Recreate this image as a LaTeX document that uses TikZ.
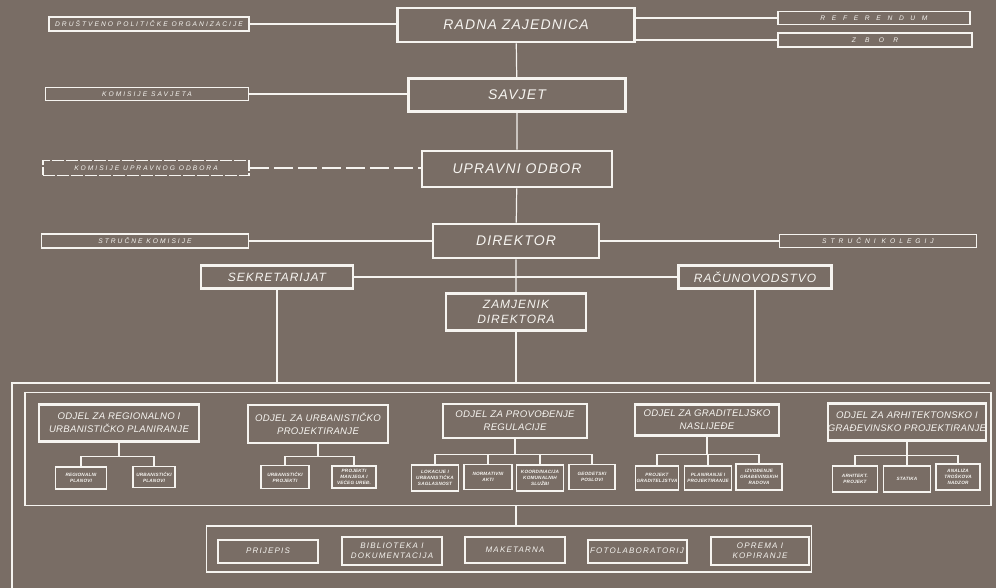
\documentclass[tikz,border=0pt]{standalone}
\usepackage{fontspec}
\setmainfont{Liberation Sans}
\usepackage{xcolor}
\definecolor{PlanBrown}{HTML}{796D65}
\definecolor{PlanChalk}{HTML}{F6F4F0}

\tikzset{
  sz/.style 2 args={minimum width=#1*0.75pt, minimum height=#2*0.75pt},
  box/.style={draw=PlanChalk, text=PlanChalk, inner sep=0pt, align=center},
  mainbox/.style={box, line width=2.1pt, font=\fontsize{10.5}{12}\selectfont\itshape\addfontfeature{LetterSpace=8}},
  sidebox/.style={box, line width=1.3pt, font=\fontsize{5}{6}\selectfont\itshape\addfontfeature{LetterSpace=#1}},
  sidebox/.default=30,
  staffbox/.style={box, line width=1.8pt, font=\fontsize{9}{11}\selectfont\itshape\addfontfeature{LetterSpace=8}},
  deptbox/.style={box, line width=2pt, font=\fontsize{7.2}{10}\selectfont\itshape\addfontfeature{LetterSpace=3}},
  subbox/.style={box, line width=1.4pt, font=\fontsize{3.5}{4.6}\selectfont\bfseries\itshape\addfontfeature{LetterSpace=4}},
  unitbox/.style={box, line width=1.5pt, font=\fontsize{6}{7.5}\selectfont\itshape\addfontfeature{LetterSpace=15}},
  framebox/.style={draw=PlanChalk, line width=1.1pt, inner sep=0pt},
  link/.style={draw=PlanChalk, line width=0.9pt},
}

\begin{document}
\begin{tikzpicture}[x=0.75pt, y=-0.75pt]
\fill[PlanBrown] (0,0) rectangle (996,588);
\useasboundingbox (0,0) rectangle (996,588);

\node[mainbox, sz={237}{34}] (radna) at (516,25) {RADNA ZAJEDNICA};
\node[sidebox, sz={200}{14}] (drustvo) at (149,24) {DRUŠTVENO POLITIČKE ORGANIZACIJE};
\node[sidebox=100, sz={192}{13}] (referendum) at (874,18) {REFERENDUM};
\node[sidebox=140, sz={194}{14}] (zbor) at (875,40) {ZBOR};

\node[mainbox, sz={217}{33}] (savjet) at (517,95) {SAVJET};
\node[sidebox, sz={203}{13}] (komsavjet) at (147,94) {KOMISIJE SAVJETA};

\node[mainbox, sz={190}{36}] (upravni) at (517,169) {UPRAVNI ODBOR};
\node[sidebox, sz={206}{15}, dash pattern=on 9pt off 1.5pt] (komupravni) at (146,168) {KOMISIJE UPRAVNOG ODBORA};

\node[mainbox, sz={166}{34}] (direktor) at (516,241) {DIREKTOR};
\node[sidebox, sz={207}{14}] (strucne) at (145,241) {STRUČNE KOMISIJE};
\node[sidebox=60, sz={197}{13}] (kolegij) at (878,241) {STRUČNI KOLEGIJ};

\node[staffbox, sz={152}{23}] (sekretarijat) at (277,277) {SEKRETARIJAT};
\node[staffbox, sz={153}{23}] (racunovodstvo) at (755,277) {RAČUNOVODSTVO};
\node[staffbox, sz={140}{37}] (zamjenik) at (516,312) {ZAMJENIK\\DIREKTORA};

\coordinate (frameleft) at (12,383);
\coordinate (frameright) at (990,383);
\node[framebox, sz={966}{113}] (odjeli) at (508,449) {};

\node[deptbox, sz={160}{37}] (d1) at (119,423) {ODJEL ZA REGIONALNO I\\URBANISTIČKO PLANIRANJE};
\node[deptbox, sz={140}{38}] (d2) at (318,424) {ODJEL ZA URBANISTIČKO\\PROJEKTIRANJE};
\node[deptbox, sz={144}{34}] (d3) at (515,421) {ODJEL ZA PROVOĐENJE\\REGULACIJE};
\node[deptbox, sz={144}{31}] (d4) at (707,420) {ODJEL ZA GRADITELJSKO\\NASLIJEĐE};
\node[deptbox, sz={150}{37}] (d5) at (907,422) {ODJEL ZA ARHITEKTONSKO I\\GRAĐEVINSKO PROJEKTIRANJE};

\node[subbox, sz={51}{22}] (s1a) at (81,478) {REGIONALNI\\PLANOVI};
\node[subbox, sz={42}{21}] (s1b) at (154,477) {URBANISTIČKI\\PLANOVI};
\node[subbox, sz={48}{23}] (s2a) at (285,477) {URBANISTIČKI\\PROJEKTI};
\node[subbox, sz={44}{22}] (s2b) at (354,477) {PROJEKTI\\MANJEGA I\\VEĆEG UREĐ.};
\node[subbox, sz={47}{26}] (s3a) at (435,478) {LOKACIJE I\\URBANISTIČKA\\SAGLASNOST};
\node[subbox, sz={48}{25}] (s3b) at (488,477) {NORMATIVNI\\AKTI};
\node[subbox, sz={47}{26}] (s3c) at (540,478) {KOORDINACIJA\\KOMUNALNIH\\SLUŽBI};
\node[subbox, sz={46}{25}] (s3d) at (592,477) {GEODETSKI\\POSLOVI};
\node[subbox, sz={43}{24}] (s4a) at (657,478) {PROJEKT\\GRADITELJSTVA};
\node[subbox, sz={47}{24}] (s4b) at (708,478) {PLANIRANJE I\\PROJEKTIRANJE};
\node[subbox, sz={46}{26}] (s4c) at (759,477) {IZVOĐENJE\\GRAĐEVINSKIH\\RADOVA};
\node[subbox, sz={45}{26}] (s5a) at (855,479) {ARHITEKT.\\PROJEKT};
\node[subbox, sz={47}{26}] (s5b) at (907,479) {STATIKA};
\node[subbox, sz={44}{26}] (s5c) at (958,477) {ANALIZA\\TROŠKOVA\\NADZOR};

\node[framebox, sz={605}{46}] (sluzbe) at (509,549) {};
\node[unitbox, sz={100}{23}] (prijepis) at (268,551) {PRIJEPIS};
\node[unitbox, sz={100}{28}] (biblioteka) at (392,551) {BIBLIOTEKA I\\DOKUMENTACIJA};
\node[unitbox, sz={100}{26}] (maketarna) at (515,550) {MAKETARNA};
\node[unitbox, sz={99}{23}] (foto) at (637,551) {FOTOLABORATORIJ};
\node[unitbox, sz={98}{28}] (oprema) at (760,551) {OPREMA I\\KOPIRANJE};

\draw[link] (radna) -- (savjet) -- (upravni) -- (direktor) -- (zamjenik);
\draw[link] (drustvo) -- (drustvo -| radna.west);
\draw[link] (referendum.west) -- (referendum.west -| radna.east);
\draw[link] (zbor.west) -- (zbor.west -| radna.east);
\draw[link] (komsavjet) -- (komsavjet -| savjet.west);
\draw[link, dash pattern=on 14pt off 4pt] (komupravni) -- (komupravni -| upravni.west);
\draw[link] (strucne) -- (strucne -| direktor.west);
\draw[link] (kolegij) -- (kolegij -| direktor.east);
\draw[link] (sekretarijat) -- (racunovodstvo);
\draw[link] (sekretarijat) -- (sekretarijat |- frameleft);
\draw[link] (racunovodstvo) -- (racunovodstvo |- frameleft);
\draw[link] (zamjenik) -- (zamjenik |- frameleft);
\draw[link] (12,588) -- (frameleft) -- (frameright);
\draw[link] (zamjenik |- odjeli.south) -- (zamjenik |- sluzbe.north);

\foreach \s in {s1a,s1b} \draw[link] (d1.south) -- ++(0,14) -| (\s.north);
\foreach \s in {s2a,s2b} \draw[link] (d2.south) -- ++(0,12) -| (\s.north);
\foreach \s in {s3a,s3b,s3c,s3d} \draw[link] (d3.south) -- ++(0,15) -| (\s.north);
\foreach \s in {s4a,s4b,s4c} \draw[link] (d4.south) -- ++(0,18) -| (\s.north);
\foreach \s in {s5a,s5b,s5c} \draw[link] (d5.south) -- ++(0,14) -| (\s.north);
\end{tikzpicture}
\end{document}
